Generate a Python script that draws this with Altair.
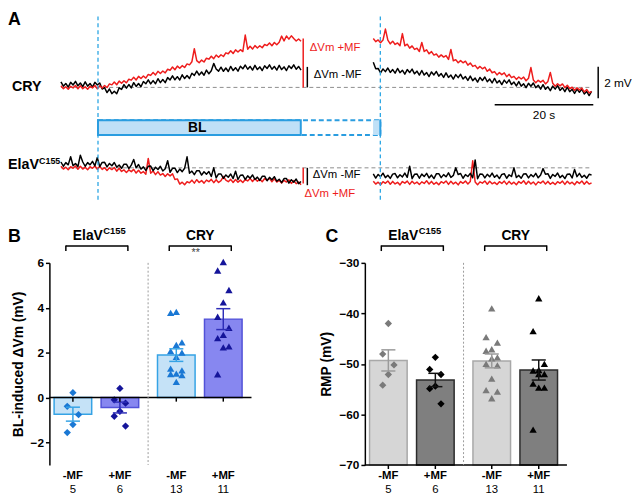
import altair as alt
import pandas as pd

FONT = "Liberation Sans"
RED = "#ee1c1c"
BLUE_LINE = "#2aa6e4"
BL_FILL = "#bfe0f7"
BL_STROKE = "#2a9de0"

# ---------------- Panel A: Vm traces (mV relative to baseline), 0.5 s sampling ----------------
seg1_time = [i * 0.5 for i in range(100)]
seg2_time = [round(64.4 + 0.5 * i, 1) for i in range(91)]

cry_minus_seg1 = [
    0.35, 0.08, 0.25, 0.02, 0.32, 0.15, 0.38, 0.10, 0.28, 0.05,
    0.35, 0.08, 0.25, 0.02, 0.32, 0.15, 0.28, -0.10, -0.02, -0.33,
    -0.10, -0.40, -0.25, -0.40, -0.03, -0.13, 0.18, -0.05, 0.18, -0.03,
    0.30, 0.06, 0.25, 0.04, 0.37, 0.23, 0.48, 0.22, 0.43, 0.23,
    0.55, 0.30, 0.50, 0.30, 0.62, 0.47, 0.73, 0.48, 0.68, 0.47,
    0.80, 0.56, 0.75, 0.56, 0.90, 0.76, 1.03, 0.78, 0.98, 0.77,
    1.10, 0.86, 1.05, 1.52, 1.17, 1.03, 1.28, 1.02, 1.23, 1.01,
    1.33, 1.07, 1.25, 1.03, 1.34, 1.18, 1.42, 1.15, 1.33, 1.10,
    1.40, 1.13, 1.30, 1.07, 1.37, 1.20, 1.43, 1.15, 1.33, 1.10,
    1.40, 1.13, 1.30, 1.07, 1.37, 1.20, 1.43, 1.15, 1.33, 1.10]
cry_plus_seg1 = [
    0.10, -0.08, 0.04, -0.12, 0.07, -0.03, 0.12, -0.09, 0.10, -0.08,
    0.04, -0.12, 0.07, -0.03, 0.12, -0.09, 0.10, -0.04, 0.12, -0.01,
    0.22, 0.16, 0.34, 0.17, 0.40, 0.26, 0.42, 0.29, 0.52, 0.46,
    0.64, 0.47, 0.70, 0.56, 0.72, 0.59, 0.82, 0.76, 0.95, 0.79,
    1.02, 0.88, 1.04, 0.92, 1.15, 1.09, 1.29, 1.12, 1.35, 1.21,
    1.38, 1.26, 1.49, 1.43, 1.63, 2.45, 1.70, 1.56, 1.73, 1.61,
    1.85, 1.79, 1.98, 1.82, 2.05, 1.91, 2.07, 1.96, 2.19, 2.13,
    2.32, 2.15, 2.38, 2.24, 2.39, 2.27, 3.32, 2.42, 2.61, 2.43,
    2.65, 2.50, 2.64, 2.51, 2.72, 2.65, 2.82, 2.64, 2.85, 2.70,
    2.86, 3.25, 2.95, 3.26, 3.06, 3.27, 3.10, 2.94, 3.07, 2.93]
cry_minus_seg2 = [
    1.60, 1.18, 1.20, 0.92, 1.17, 1.00, 1.23, 0.95, 1.13, 0.90,
    1.20, 0.93, 1.09, 0.84, 1.13, 0.94, 1.16, 0.86, 1.03, 0.78,
    1.07, 0.78, 0.94, 0.69, 0.98, 0.79, 1.01, 0.71, 0.88, 0.63,
    0.92, 0.63, 0.78, 0.53, 0.81, 0.62, 0.83, 0.53, 0.69, 0.44,
    0.72, 0.43, 0.59, 0.34, 0.63, 0.44, 0.66, 0.36, 0.53, 0.28,
    0.57, 0.28, 0.43, 0.18, 0.46, 0.27, 0.48, 0.18, 0.34, 0.09,
    0.37, 0.08, 0.23, -0.02, 0.26, 0.07, 0.28, -0.02, 0.14, -0.11,
    0.17, -0.12, 0.04, -0.21, 0.08, -0.11, 0.11, -0.19, -0.02, -0.27,
    0.02, -0.27, -0.12, -0.38, -0.11, -0.31, -0.11, -0.42, -0.26, -0.52,
    -0.25]
cry_plus_seg2 = [
    3.10, 2.90, 3.01, 2.83, 3.00, 3.70, 3.00, 2.76, 2.93, 2.72,
    2.82, 2.64, 3.41, 2.64, 2.74, 2.49, 2.63, 2.41, 2.48, 2.28,
    2.85, 2.28, 2.38, 2.13, 2.27, 2.05, 2.12, 1.92, 2.06, 1.92,
    2.02, 1.77, 2.41, 1.69, 1.76, 1.56, 1.70, 1.56, 1.66, 1.41,
    1.55, 1.33, 1.40, 1.19, 1.33, 1.18, 1.28, 1.02, 1.16, 0.93,
    1.00, 0.79, 0.94, 0.81, 0.92, 0.68, 0.83, 0.62, 0.70, 0.51,
    0.66, 0.53, 0.65, 0.42, 0.58, 1.26, 0.47, 0.29, 0.45, 0.33,
    0.45, 0.22, 0.38, 0.95, 0.26, 0.07, 0.23, 0.10, 0.22, -0.02,
    0.14, -0.07, 0.01, -0.18, -0.03, -0.16, -0.04, -0.29, -0.13, -0.35,
    -0.26]
elav_minus_seg1 = [
    0.37, 0.10, 0.33, 0.19, 0.70, 0.13, 0.28, 0.08, 0.80, 0.37,
    0.10, 0.33, 0.19, 0.41, 0.13, 0.65, 0.08, 0.34, 0.35, 0.06,
    0.28, 0.13, 0.34, 0.04, 0.18, -0.03, 0.23, 0.23, -0.05, 0.17,
    0.53, 0.00, 0.21, -0.08, 0.06, -0.16, 0.10, 0.11, -0.18, 0.04,
    -0.11, 0.10, -0.20, -0.06, 0.45, -0.28, -0.03, -0.02, -0.30, -0.08,
    -0.24, -0.03, 0.70, -0.34, -0.21, -0.43, -0.18, -0.18, -0.46, -0.25,
    -0.41, -0.23, -0.55, 0.00, -0.64, -0.39, -0.39, -0.67, -0.45, -0.60,
    -0.39, -0.68, -0.21, -0.74, -0.47, -0.46, -0.74, -0.51, -0.66, -0.45,
    -0.74, -0.59, -0.80, -0.54, -0.53, -0.82, -0.60, -0.76, -0.56, -0.85,
    -0.72, -0.94, -0.68, -0.68, -0.97, -0.75, -0.91, -0.71, -1.00, -0.87]
elav_plus_seg1 = [
    0.10, -0.08, 0.04, -0.12, 0.07, -0.03, 0.12, -0.09, 0.10, -0.08,
    0.04, -0.12, 0.07, -0.03, 0.12, -0.09, 0.10, -0.10, 0.01, -0.17,
    0.00, -0.11, 0.02, -0.21, -0.03, -0.23, -0.13, -0.30, -0.13, -0.24,
    -0.10, -0.33, -0.15, -0.34, -0.24, -0.41, 0.60, -0.34, -0.20, -0.43,
    -0.25, -0.46, -0.36, -0.55, -0.38, -0.51, -0.38, -0.74, -0.70, -1.03,
    -0.91, -1.07, -0.88, -0.95, -0.78, -0.97, -0.75, -0.93, -0.81, -0.97,
    -0.78, -0.88, -0.73, -0.94, -0.75, -0.93, -0.81, -0.55, -0.78, -0.88,
    -0.73, -0.93, -0.74, -0.91, -0.78, -0.93, -0.74, -0.83, -0.67, -0.87,
    -0.68, -0.85, -0.72, -0.88, -0.68, -0.79, -0.66, -0.88, -0.70, -0.90,
    -0.79, -0.96, -0.79, -0.90, -0.76, -0.99, -0.81, -1.00, -0.90, -1.07]
elav_minus_seg2 = [
    -0.38, -0.65, -0.42, -0.56, -0.34, -0.62, -0.47, -0.67, -0.40, -0.36,
    -0.63, -0.44, -0.58, -0.33, -0.60, 0.10, -0.69, -0.41, -0.39, -0.66,
    -0.40, -0.55, -0.35, -0.64, -0.46, -0.68, -0.38, -0.37, -0.62, -0.43,
    -0.57, -0.32, -0.61, -0.48, 0.00, -0.42, -0.36, -0.66, -0.43, -0.55,
    -0.35, -0.63, 0.50, -0.69, -0.39, -0.40, -0.64, -0.41, -0.57, -0.33,
    -0.60, -0.46, -0.68, -0.42, -0.37, -0.66, -0.44, -0.55, 0.00, -0.61,
    -0.48, -0.66, -0.39, -0.38, -0.64, -0.43, -0.57, -0.35, -0.63, -0.45,
    -0.05, -0.41, -0.37, -0.67, -0.42, -0.54, -0.33, -0.62, -0.48, -0.68,
    -0.40, -0.39, -0.64, -0.10, -0.56, -0.35, -0.61, -0.47, -0.66, -0.41,
    -0.45]
elav_plus_seg2 = [
    -0.85, -1.03, -0.91, -1.07, -0.88, -0.98, -0.83, -1.04, -0.86, -1.02,
    -0.92, -1.08, -0.87, -0.97, -0.84, -1.05, -0.85, -1.01, -0.90, -1.06,
    -0.89, -0.99, -0.82, -1.03, -0.86, -1.04, -0.92, -1.07, -0.88, -0.97,
    -0.83, -1.05, -0.85, -1.02, -0.91, -1.08, -0.87, -0.98, -0.84, -1.03,
    -0.86, 0.45, -0.90, -1.07, -0.89, -0.97, -0.83, -1.04, -0.85, -1.01,
    -0.92, -1.06, -0.88, -0.99, -0.84, -1.05, -0.86, -1.03, -0.91, -1.07,
    -0.87, -0.98, -0.82, -1.04, -0.85, -1.02, -0.90, -1.08, -0.89, -0.97,
    -0.83, -1.03, -0.86, -1.04, -0.92, -1.06, -0.88, -0.98, -0.84, -1.05,
    -0.85, -1.01, -0.91, -1.07, -0.87, -0.99, -0.83, -1.04, -0.86, -1.03,
    -0.95]

# BL-induced change markers (mV)
delta_prep = ["CRY", "CRY", "ElaV", "ElaV"]
delta_cond = ["-MF", "+MF", "-MF", "+MF"]
delta_value = [1.3, 3.1, -1.1, -1.0]

# ---------------- Panel B: BL-induced dVm (mV) ----------------
b_elav_minus = [0.22, -0.39, -0.76, -1.2, -1.56]
b_elav_plus = [0.41, -0.1, -0.25, -0.61, -0.83, -1.27]
b_cry_minus = [3.77, 3.82, 2.46, 2.35, 2.07, 2.0, 1.81, 1.29, 1.21, 1.07, 1.0, 1.05, 0.70]
b_cry_plus = [6.04, 5.66, 4.79, 4.24, 3.6, 3.11, 2.65, 2.79, 2.28, 2.24, 1.04]

# ---------------- Panel C: RMP (mV) ----------------
c_elav_minus = [-42.0, -48.05, -50.2, -52.1, -54.2]
c_elav_plus = [-48.7, -51.1, -52.1, -54.4, -54.9, -57.9]
c_cry_minus = [-39.0, -44.7, -45.8, -47.1, -47.4, -48.7, -48.9, -50.0, -50.3, -52.9, -55.2, -55.5, -56.8]
c_cry_plus = [-37.0, -43.5, -50.0, -51.2, -51.3, -52.0, -52.0, -53.9, -54.7, -54.7, -63.0]

# ---------------- tables ----------------
rows = []
for prep, cond, seg, times, vals in [
    ("CRY", "-MF", 1, seg1_time, cry_minus_seg1), ("CRY", "-MF", 2, seg2_time, cry_minus_seg2),
    ("CRY", "+MF", 1, seg1_time, cry_plus_seg1), ("CRY", "+MF", 2, seg2_time, cry_plus_seg2),
    ("ElaV", "-MF", 1, seg1_time, elav_minus_seg1), ("ElaV", "-MF", 2, seg2_time, elav_minus_seg2),
    ("ElaV", "+MF", 1, seg1_time, elav_plus_seg1), ("ElaV", "+MF", 2, seg2_time, elav_plus_seg2),
]:
    for t, v in zip(times, vals):
        rows.append({"prep": prep, "cond": cond, "seg": seg, "t": t, "v": v})
trace_df = pd.DataFrame(rows)
delta_df = pd.DataFrame({"prep": delta_prep, "cond": delta_cond, "delta": delta_value})
one = pd.DataFrame({"k": [0]})


def points_df(em, ep, cm, cp):
    r = []
    for g, c, vals in [("ElaV", "-MF", em), ("ElaV", "+MF", ep), ("CRY", "-MF", cm), ("CRY", "+MF", cp)]:
        r += [{"group": g, "cond": c, "value": v} for v in vals]
    return pd.DataFrame(r)


b_df = points_df(b_elav_minus, b_elav_plus, b_cry_minus, b_cry_plus)
c_df = points_df(c_elav_minus, c_elav_plus, c_cry_minus, c_cry_plus)

# ---------------- Panel A chart ----------------
ELAV_OFF = -5.1
xA = alt.Scale(domain=[-2.38, 111.44], nice=False, zero=False)
yA = alt.Scale(domain=[-7.6875, 4.8125], nice=False, zero=False)


def XA(f):
    return alt.X(f, type="quantitative", scale=xA, axis=None)


def YA(f):
    return alt.Y(f, type="quantitative", scale=yA, axis=None)


def XAD(v):
    return alt.XDatum(v, scale=xA, axis=None)


def YAD(v):
    return alt.YDatum(v, scale=yA, axis=None)


trace_base = alt.Chart(trace_df).transform_calculate(
    y=f"datum.v + (datum.prep == 'ElaV' ? {ELAV_OFF} : 0)")


def trace(prep, cond, color):
    return trace_base.transform_filter(
        (alt.datum.prep == prep) & (alt.datum.cond == cond)
    ).mark_line(color=color, strokeWidth=1.5, strokeJoin="round").encode(
        x=XA("t"), y=YA("y"), detail="seg:N")


def hline(y):
    return alt.Chart(one).mark_rule(color="#8c8c8c", strokeDash=[4, 3], strokeWidth=1).encode(
        x=XAD(0), x2=alt.X2Datum(109.4), y=YAD(y))


def vdash(t):
    return alt.Chart(one).mark_rule(color=BLUE_LINE, strokeDash=[4, 3], strokeWidth=1.3).encode(
        x=XAD(t), y=YAD(4.5), y2=alt.Y2Datum(-7.3))


def atext(txt, t, y, **kw):
    return alt.Chart(one).mark_text(text=txt, font=FONT, **kw).encode(x=XAD(t), y=YAD(y))


bl_outline = alt.Chart(one).mark_rect(fill="white", stroke=BL_STROKE, strokeWidth=2, strokeDash=[5, 3]).encode(
    x=XAD(7.64), x2=alt.X2Datum(65.85), y=YAD(-2.08), y2=alt.Y2Datum(-3.02))
bl_fill = alt.Chart(one).mark_rect(fill=BL_FILL, stroke=BL_STROKE, strokeWidth=2).encode(
    x=XAD(7.64), x2=alt.X2Datum(49.45), y=YAD(-2.08), y2=alt.Y2Datum(-3.02))
bl_fill2 = alt.Chart(one).mark_rect(fill=BL_FILL).encode(
    x=XAD(64.35), x2=alt.X2Datum(65.85), y=YAD(-2.08), y2=alt.Y2Datum(-3.02))
bl_edge = alt.Chart(one).mark_rule(color=BL_STROKE, strokeWidth=2).encode(
    x=XAD(65.85), y=YAD(-2.02), y2=alt.Y2Datum(-3.08))

markers = alt.Chart(delta_df).transform_calculate(
    base=f"datum.prep == 'ElaV' ? {ELAV_OFF} : 0"
).transform_calculate(
    top="datum.base + datum.delta"
).transform_calculate(
    tx="datum.cond == '+MF' ? 49.95 : 50.8"
).mark_rule(strokeWidth=1.5).encode(
    x=XA("tx"), y=YA("base"), y2="top:Q",
    color=alt.when(alt.datum.cond == "+MF").then(alt.value(RED)).otherwise(alt.value("black")),
)

scale_h = alt.Chart(one).mark_rule(color="black", strokeWidth=1.5).encode(
    x=XAD(89.43), x2=alt.X2Datum(109.76), y=YAD(-1.106))
scale_v = alt.Chart(one).mark_rule(color="black", strokeWidth=1.5).encode(
    x=XAD(110.77), y=YAD(1.3125), y2=alt.Y2Datum(-0.6875))

label_A = alt.Chart(one).mark_text(text="A", font=FONT, fontSize=18, fontWeight="bold",
                                   align="left", baseline="top").encode(x=alt.value(-42), y=alt.value(0))
label_cry = alt.Chart(one).mark_text(text="CRY", font=FONT, fontSize=14.5, fontWeight="bold",
                                     align="left", baseline="middle").encode(x=alt.value(-38), y=YAD(0))
label_elav = alt.Chart(one).mark_text(text="ElaV", font=FONT, fontSize=14.5, fontWeight="bold",
                                      align="left", baseline="middle").encode(x=alt.value(-42), y=YAD(-4.93))
label_elav_sup = alt.Chart(one).mark_text(text="C155", font=FONT, fontSize=9, fontWeight="bold",
                                          align="left", baseline="middle").encode(x=alt.value(-10.5), y=YAD(-4.65))

panelA = alt.layer(
    hline(0), hline(ELAV_OFF),
    trace("CRY", "-MF", "black"), trace("CRY", "+MF", RED),
    trace("ElaV", "+MF", RED), trace("ElaV", "-MF", "black"),
    vdash(7.64), vdash(65.85),
    bl_outline, bl_fill, bl_fill2, bl_edge,
    atext("BL", 28.1, -2.55, fontSize=14, fontWeight="bold", align="center", baseline="middle"),
    markers,
    atext("\u0394Vm +MF", 50.9, 2.5, fontSize=11.5, color=RED, align="left", baseline="middle", dx=2),
    atext("\u0394Vm -MF", 51.7, 0.77, fontSize=11.5, color="black", align="left", baseline="middle", dx=2),
    atext("\u0394Vm -MF", 51.5, -5.56, fontSize=11.5, color="black", align="left", baseline="middle", dx=2),
    atext("\u0394Vm +MF", 49.8, -6.77, fontSize=11.5, color=RED, align="left", baseline="middle", dx=2),
    scale_h, scale_v,
    atext("20 s", 99.6, -1.75, fontSize=12, align="center", baseline="middle"),
    atext("2 mV", 112.0, 0.3, fontSize=12, align="left", baseline="middle"),
    label_A, label_cry, label_elav, label_elav_sup,
).properties(width=560, height=200)

# ---------------- Panels B and C ----------------
POS = "(datum.group == 'CRY' ? 2.2 : 0) + (datum.cond == '+MF' ? 1 : 0)"


def when_minus(a, b):
    return alt.when(alt.datum.cond == "-MF").then(alt.value(a)).otherwise(alt.value(b))


def bar_panel(df, letter, ytitle, ydomain, yvalues, axis_y, tick_len, cols, stars=False):
    xs = alt.Scale(domain=[-0.5, 3.8], nice=False, zero=False)
    ys = alt.Scale(domain=ydomain, nice=False, zero=False)
    yaxis = alt.Axis(values=yvalues, grid=False, domainColor="black", domainWidth=1.5,
                     tickColor="black", tickWidth=1.5, tickSize=4, labelFont=FONT, labelFontSize=12,
                     labelFontWeight="bold", labelColor="black", labelPadding=2, titleFont=FONT,
                     titleFontSize=14, titleFontWeight="bold", titleColor="black", titlePadding=5)

    def X(f):
        return alt.X(f, type="quantitative", scale=xs, axis=None)

    def Y(f):
        return alt.Y(f, type="quantitative", scale=ys, axis=yaxis, title=ytitle)

    def XD(v):
        return alt.XDatum(v, scale=xs, axis=None)

    def YD(v):
        return alt.YDatum(v, scale=ys, axis=yaxis, title=ytitle)

    agg = alt.Chart(df).transform_aggregate(
        mean="mean(value)", sem="stderr(value)", n="count()", groupby=["group", "cond"]
    ).transform_calculate(pos=POS
    ).transform_calculate(xl="datum.pos - 0.4"
    ).transform_calculate(xr="datum.pos + 0.4"
    ).transform_calculate(cl="datum.pos - 0.15"
    ).transform_calculate(cr="datum.pos + 0.15"
    ).transform_calculate(lo="datum.mean - datum.sem"
    ).transform_calculate(hi="datum.mean + datum.sem"
    ).transform_calculate(tlo=f"{axis_y} - {tick_len}")

    bars = agg.mark_rect(strokeWidth=1.5).encode(
        x=X("xl"), x2="xr:Q", y=Y("mean"), y2=alt.Y2Datum(0 if axis_y == 0 else ydomain[0]),
        fill=when_minus(cols["fill"][0], cols["fill"][1]),
        stroke=when_minus(cols["stroke"][0], cols["stroke"][1]),
    )
    pts = alt.Chart(df).transform_calculate(pos=POS).transform_window(
        r="row_number()", groupby=["group", "cond"], sort=[alt.SortField("value", order="descending")]
    ).transform_calculate(
        xj="datum.pos + (datum.r % 3 == 1 ? 0 : (datum.r % 3 == 2 ? -0.12 : 0.12))"
    ).mark_point(filled=True, size=55, opacity=1, strokeWidth=0).encode(
        x=X("xj"), y=Y("value"),
        shape=alt.when(alt.datum.group == "ElaV").then(alt.value("diamond")).otherwise(alt.value("triangle-up")),
        color=when_minus(cols["pt"][0], cols["pt"][1]),
    )
    err_v = agg.mark_rule(strokeWidth=1.5).encode(
        x=X("pos"), y=Y("lo"), y2="hi:Q", color=when_minus(cols["err"][0], cols["err"][1]))
    err_hi = agg.mark_rule(strokeWidth=1.5).encode(
        x=X("cl"), x2="cr:Q", y=Y("hi"), color=when_minus(cols["err"][0], cols["err"][1]))
    err_lo = agg.mark_rule(strokeWidth=1.5).encode(
        x=X("cl"), x2="cr:Q", y=Y("lo"), color=when_minus(cols["err"][0], cols["err"][1]))
    xline = alt.Chart(one).mark_rule(color="black", strokeWidth=1.5).encode(
        x=XD(-0.5), x2=alt.X2Datum(3.8), y=YD(axis_y))
    xticks = agg.mark_rule(color="black", strokeWidth=1.5).encode(
        x=X("pos"), y=Y("tlo"), y2=alt.Y2Datum(axis_y))
    divider = alt.Chart(one).mark_rule(color="#9a9a9a", strokeDash=[2, 2], strokeWidth=1).encode(
        x=XD(1.6), y=YD(ydomain[1]), y2=alt.Y2Datum(ydomain[0]))
    cond_lbl = agg.mark_text(font=FONT, fontSize=11.5, fontWeight="bold", baseline="middle").encode(
        x=X("pos"), y=alt.value(216), text="cond:N")
    n_lbl = agg.mark_text(font=FONT, fontSize=11.5, baseline="middle").encode(
        x=X("pos"), y=alt.value(230), text="n:Q")

    br = alt.Chart(df).transform_calculate(pos=POS).transform_aggregate(
        lo="min(pos)", hi="max(pos)", groupby=["group"]
    ).transform_calculate(bl="datum.lo - 0.15").transform_calculate(
        brr="datum.hi + 0.17").transform_calculate(mid="(datum.lo + datum.hi) / 2 + 0.01")
    br_h = br.mark_rule(color="black", strokeWidth=1.5).encode(x=X("bl"), x2="brr:Q", y=alt.value(-17))
    br_l = br.mark_rule(color="black", strokeWidth=1.5).encode(x=X("bl"), y=alt.value(-17.7), y2=alt.value(-12))
    br_r = br.mark_rule(color="black", strokeWidth=1.5).encode(x=X("brr"), y=alt.value(-17.7), y2=alt.value(-12))
    g_cry = br.transform_filter(alt.datum.group == "CRY").mark_text(
        font=FONT, fontSize=14, fontWeight="bold", baseline="alphabetic").encode(
        x=X("mid"), y=alt.value(-23), text="group:N")
    g_elav = br.transform_filter(alt.datum.group == "ElaV").mark_text(
        text="ElaV", font=FONT, fontSize=14, fontWeight="bold", baseline="alphabetic", align="right", dx=6).encode(
        x=X("mid"), y=alt.value(-23))
    g_sup = br.transform_filter(alt.datum.group == "ElaV").mark_text(
        text="C155", font=FONT, fontSize=9.5, fontWeight="bold", baseline="alphabetic", align="left", dx=6.5).encode(
        x=X("mid"), y=alt.value(-29))
    letter_lbl = alt.Chart(one).mark_text(text=letter, font=FONT, fontSize=18, fontWeight="bold",
                                          align="left", baseline="top").encode(
        x=alt.value(-42 if letter == "B" else -40), y=alt.value(-35))
    layers = [bars, pts, err_v, err_hi, err_lo, xline, xticks, divider, cond_lbl, n_lbl,
              br_h, br_l, br_r, g_cry, g_elav, g_sup, letter_lbl]
    if stars:
        layers.append(br.transform_filter(alt.datum.group == "CRY").mark_text(
            text="**", font=FONT, fontSize=11, fontStyle="italic", color="#444444", baseline="middle", dx=-5).encode(
            x=X("mid"), y=alt.value(-10)))
    return alt.layer(*layers).properties(width=205, height=205)


panelB = bar_panel(
    b_df, "B", "BL-induced \u0394Vm (mV)", [-3, 6], [-2, 0, 2, 4, 6], 0, 0.18,
    {"fill": ["#c5e2f7", "#8787f0"], "stroke": ["#35a3e5", "#5252d8"],
     "pt": ["#1a78d4", "#15159a"], "err": ["#35a3e5", "#2e2eb8"]}, stars=True)
panelC = bar_panel(
    c_df, "C", "RMP (mV)", [-70, -30], [-70, -60, -50, -40, -30], -70, 0.8,
    {"fill": ["#d6d6d6", "#7f7f7f"], "stroke": ["#a8a8a8", "#2b2b2b"],
     "pt": ["#7a7a7a", "#000000"], "err": ["#9a9a9a", "#111111"]})

chart = alt.vconcat(
    panelA,
    alt.hconcat(panelB, panelC, spacing=115, bounds="flush"),
    spacing=55, bounds="flush",
).properties(padding=0).configure_view(stroke=None)

chart.save("out.html", embed_options={"renderer": "svg", "actions": False})
